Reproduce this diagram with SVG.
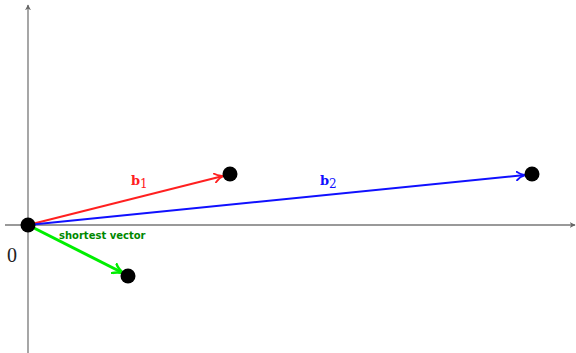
<svg xmlns="http://www.w3.org/2000/svg" width="576" height="353" viewBox="0 0 576 353">
<defs>
<marker id="ah" viewBox="0 0 10 10" refX="9" refY="5" markerWidth="6" markerHeight="6" orient="auto" markerUnits="userSpaceOnUse">
<path d="M0,0 L10,5 L0,10 L3,5 Z" fill="#666"/>
</marker>
<marker id="ar" viewBox="0 0 10 10" refX="9" refY="5" markerWidth="10" markerHeight="10" orient="auto" markerUnits="userSpaceOnUse">
<path d="M0,0 Q4,4 10,5 Q4,6 0,10" fill="none" stroke="#ff2020" stroke-width="1.8"/>
</marker>
<marker id="ab" viewBox="0 0 10 10" refX="9" refY="5" markerWidth="10" markerHeight="10" orient="auto" markerUnits="userSpaceOnUse">
<path d="M0,0 Q4,4 10,5 Q4,6 0,10" fill="none" stroke="#1010ff" stroke-width="1.8"/>
</marker>
<marker id="ag" viewBox="0 0 10 10" refX="9" refY="5" markerWidth="12" markerHeight="12" orient="auto" markerUnits="userSpaceOnUse">
<path d="M0,0 Q4,4 10,5 Q4,6 0,10" fill="none" stroke="#00ee00" stroke-width="2"/>
</marker>
</defs>
<style>
.axis{stroke:#777;stroke-width:1.3;fill:none}
.dot{fill:#000}
.lbl{font-family:"DejaVu Serif","Liberation Serif",serif;font-weight:bold;font-size:13px}
</style>
<rect width="576" height="353" fill="#fff"/>
<g id="axes">
<line class="axis" x1="5" y1="225" x2="575" y2="225" marker-end="url(#ah)"/>
<line class="axis" x1="28" y1="353" x2="28" y2="5" marker-end="url(#ah)"/>
</g>
<g id="connectors">
<line x1="28" y1="225" x2="223" y2="176" stroke="#ff2020" stroke-width="2" marker-end="url(#ar)"/>
<line x1="28" y1="225" x2="525" y2="175" stroke="#1010ff" stroke-width="2" marker-end="url(#ab)"/>
<line x1="28" y1="225" x2="123" y2="273" stroke="#00ee00" stroke-width="3" marker-end="url(#ag)"/>
</g>
<g id="n0"><circle class="dot" cx="28" cy="225" r="7.5"/><text x="7" y="262" font-family="Liberation Serif,serif" font-size="20" fill="#222">0</text></g>
<g id="n1"><circle class="dot" cx="230" cy="174" r="7.5"/></g>
<g id="n2"><circle class="dot" cx="532" cy="174" r="7.5"/></g>
<g id="n3"><circle class="dot" cx="128" cy="276" r="7.5"/></g>
<g id="labels">
<text class="lbl" x="131" y="185" fill="#ff2020">b<tspan font-size="12" dy="3" font-weight="normal">1</tspan></text>
<text class="lbl" x="320" y="185" fill="#1010ff">b<tspan font-size="12" dy="3" font-weight="normal">2</tspan></text>
<text x="59" y="239" font-family="DejaVu Sans,sans-serif" font-weight="bold" font-size="10" fill="#008800">shortest vector</text>
</g>
</svg>
